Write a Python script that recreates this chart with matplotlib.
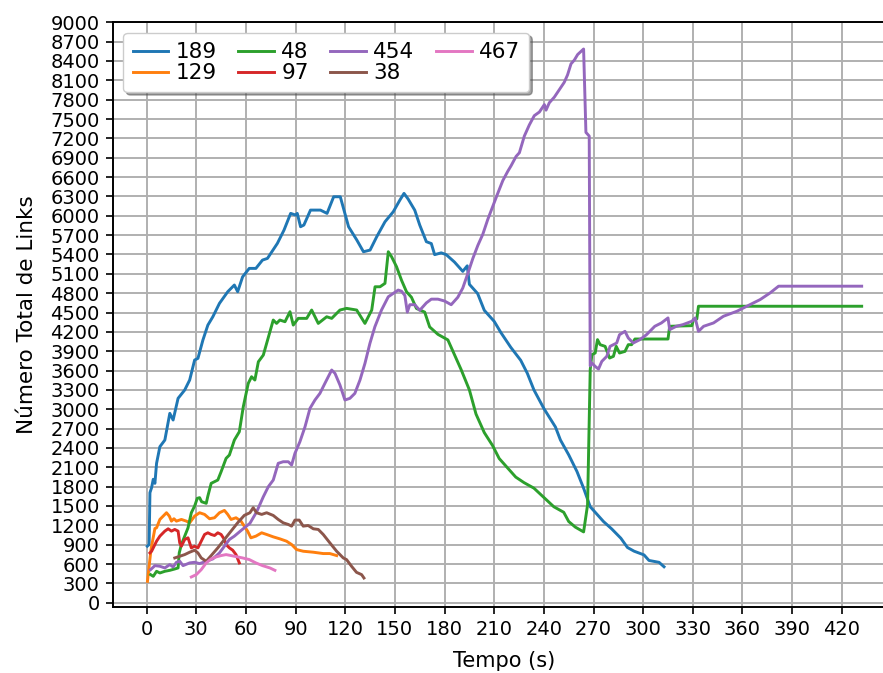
import matplotlib
matplotlib.use("Agg")
import matplotlib.pyplot as plt
import numpy as np

labels = ["189", "129", "48", "97", "454", "38", "467"]

t_189 = [0.4, 1.5, 2, 3, 4, 5, 6, 8, 11, 14, 16, 19, 23, 26, 29, 31, 34, 37, 40, 44, 49, 53, 55, 58,
         62, 66, 70, 73, 79, 83, 87, 90, 91, 93, 95, 99, 105, 109, 113, 117, 122, 127, 131, 135, 139,
         144, 149, 153, 155.5, 158, 162, 165, 169, 172, 174, 178, 181, 186, 191, 193.7, 195, 200, 204,
         210, 214, 220, 226, 230, 234, 240, 247, 250, 255, 260, 264, 268, 272, 276, 281, 286.5, 290.5,
         294.5, 300.5, 303.5, 309.6, 312.6]
v_189 = [876, 902, 1706, 1784, 1914, 1851, 2161, 2419, 2522, 2936, 2833, 3169, 3298, 3453, 3763, 3789,
         4073, 4305, 4434, 4642, 4822, 4926, 4822, 5054, 5184, 5184, 5313, 5339, 5572, 5778, 6037, 6011,
         6037, 5830, 5856, 6088, 6088, 6037, 6295, 6295, 5830, 5623, 5442, 5468, 5674, 5907, 6062, 6243,
         6347, 6259, 6086, 5856, 5598, 5569, 5397, 5425, 5397, 5282, 5138, 5224, 4937, 4793, 4534, 4362,
         4190, 3960, 3759, 3557, 3299, 3011, 2724, 2523, 2293, 2034, 1776, 1488, 1374, 1259, 1144, 1000,
         856, 799, 741, 655, 626, 557]

t_129 = [0.5, 2.4, 3, 5, 6, 8, 10, 12, 13.7, 15, 16.5, 18, 21, 24, 26, 29, 32, 35, 38, 41, 44, 47, 49,
         51, 54, 57, 59, 61, 63, 66, 69.5, 72.5, 76.5, 80.5, 84.5, 87.6, 90.6, 94.6, 100.7, 106.7, 110.7,
         114.8]
v_129 = [331, 772, 876, 1150, 1161, 1291, 1343, 1395, 1343, 1265, 1302, 1265, 1291, 1265, 1239, 1343,
         1395, 1369, 1302, 1317, 1395, 1431, 1369, 1291, 1317, 1265, 1187, 1110, 1006, 1032, 1084, 1058,
         1021, 990, 954, 902, 824, 798, 783, 762, 762, 731]

t_48 = [2.4, 4, 6, 8, 11, 14, 17, 19, 19.7, 21, 23, 25, 27, 29, 30.6, 32, 33.2, 36, 37, 39, 43, 45, 48,
        50, 53, 56, 58.4, 61.4, 63.4, 65.4, 67.5, 70.5, 72.5, 76.5, 78.5, 80.5, 83.6, 86.6, 88.6, 91.6,
        96.7, 99.7, 103.7, 108.8, 111.8, 116.8, 120.8, 126.9, 131.9, 136, 138, 141, 144, 146, 148, 151,
        154, 157, 160, 163, 168, 171, 176, 182, 186, 190, 195, 199, 204, 209, 213, 218, 223, 228, 234,
        240, 246, 252, 255, 259, 264, 266.4, 268, 269, 271, 272.4, 274, 277, 279.7, 282, 283.7, 285.7,
        289, 291, 293, 295, 315, 316, 329.4, 330.4, 332.4, 333.4, 432]
v_48 = [435, 409, 487, 461, 487, 502, 523, 539, 772, 902, 1032, 1161, 1395, 1499, 1618, 1629, 1566, 1541,
        1654, 1851, 1902, 2031, 2238, 2290, 2522, 2651, 3039, 3401, 3504, 3453, 3736, 3840, 4021, 4383,
        4331, 4383, 4357, 4512, 4305, 4409, 4409, 4538, 4331, 4434, 4409, 4538, 4564, 4538, 4331, 4538,
        4899, 4899, 4952, 5442, 5364, 5209, 5000, 4822, 4736, 4563, 4506, 4276, 4161, 4075, 3845, 3615,
        3299, 2925, 2638, 2437, 2236, 2092, 1948, 1862, 1776, 1632, 1488, 1402, 1259, 1172, 1098, 1517,
        3615, 3846, 3872, 4079, 4001, 3975, 3794, 3820, 3975, 3872, 3897, 4001, 4001, 4089, 4089, 4286,
        4296, 4390, 4400, 4597, 4597]

t_97 = [2, 3, 6, 8, 11, 13, 15, 17, 19, 20, 21, 23, 25, 27, 29, 31, 33, 35, 37, 39, 41, 43, 45, 47, 48,
        50, 52, 54, 56]
v_97 = [772, 798, 954, 1032, 1110, 1146, 1110, 1136, 1110, 928, 876, 980, 1006, 850, 876, 850, 954, 1058,
        1084, 1058, 1042, 1084, 1058, 980, 902, 850, 814, 746, 617]

t_454 = [2.4, 5, 8, 11, 14, 16, 18, 20, 22, 26, 29, 32, 36, 40, 44, 47, 50, 53, 57.4, 62.4, 66.5, 70.5,
         73.5, 76.5, 79.5, 82.5, 85.6, 87.6, 89.6, 92.6, 95.7, 98.7, 101.7, 104.7, 107.7, 111.8, 113.8,
         116.8, 119.8, 122.8, 125.8, 128.9, 131.9, 134.9, 137.9, 141.9, 146, 149, 152, 154, 156, 157.5,
         159, 162, 165, 169, 172, 176, 180, 184, 188, 191, 194.1, 197.1, 200.1, 203.1, 206.1, 209.1,
         212.1, 215.2, 218.2, 220.2, 223.2, 225.2, 228.2, 231.2, 234.2, 237.3, 240.3, 241.3, 243.3,
         246.3, 249.3, 252.3, 254.3, 256.4, 258.4, 260.4, 264, 265.4, 267.4, 268, 269, 271, 273, 275,
         278, 280, 282, 284, 285.7, 289, 291, 294, 298, 302, 307, 311, 315, 316, 320, 324, 329.4, 331.4,
         333.4, 336.5, 342.5, 348.5, 356.6, 362.6, 370.7, 376.7, 381.8, 432]
v_454 = [513, 575, 565, 539, 591, 554, 627, 643, 575, 617, 627, 606, 643, 679, 772, 876, 980, 1032, 1127,
         1231, 1411, 1643, 1798, 1902, 2161, 2186, 2186, 2135, 2316, 2496, 2729, 3014, 3143, 3246, 3401,
         3608, 3556, 3375, 3143, 3169, 3246, 3453, 3711, 4021, 4279, 4538, 4744, 4796, 4848, 4830, 4764,
         4506, 4621, 4621, 4534, 4649, 4707, 4707, 4678, 4621, 4736, 4879, 5109, 5339, 5540, 5713, 5943,
         6144, 6345, 6546, 6690, 6776, 6920, 6977, 7236, 7408, 7552, 7609, 7724, 7638, 7753, 7839, 7954,
         8069, 8184, 8356, 8414, 8500, 8586, 7293, 7236, 3672, 3716, 3664, 3623, 3742, 3820, 3975, 4001,
         4027, 4156, 4208, 4105, 4027, 4079, 4156, 4286, 4338, 4416, 4234, 4286, 4312, 4364, 4416, 4208,
         4286, 4338, 4442, 4519, 4597, 4701, 4804, 4908, 4908]

t_38 = [17, 20, 23, 26, 29, 31, 33, 36, 39, 43, 47, 51, 55, 59, 62.4, 64.4, 66.4, 69.5, 72.5, 76.5, 79.5,
        82.5, 85.6, 87.6, 89.6, 92.2, 94.6, 97.6, 100.7, 103.7, 106.7, 110.7, 114.8, 118.8, 120.8, 123.8,
        126.8, 129.9, 131.3]
v_38 = [694, 720, 746, 783, 814, 772, 694, 643, 731, 850, 980, 1110, 1239, 1354, 1395, 1473, 1395, 1369,
        1395, 1353, 1291, 1239, 1213, 1187, 1281, 1281, 1187, 1197, 1146, 1136, 1058, 928, 798, 694, 668,
        565, 471, 435, 383]

t_467 = [27, 30, 33, 36, 39, 42, 45, 48, 51, 55, 58, 62, 66, 70, 74.5, 77.5]
v_467 = [399, 435, 513, 617, 679, 710, 731, 746, 731, 710, 694, 669, 617, 575, 539, 502]

x_ticks = list(range(0, 421, 30))
y_ticks = list(range(0, 9001, 300))

series = [(t_189, v_189), (t_129, v_129), (t_48, v_48), (t_97, v_97),
          (t_454, v_454), (t_38, v_38), (t_467, v_467)]

W, H = 883, 673
fig = plt.figure(figsize=(W / 100, H / 100), dpi=100)
left, right = 112.7 / W, 895.6 / W
bottom, top = (H - 606.7) / H, (H - 22.3) / H
ax = fig.add_axes([left, bottom, right - left, top - bottom])

for i, ((t, v), lab) in enumerate(zip(series, labels)):
    ax.plot(t, v, color=f"C{i}", lw=2.1, label=lab)

ax.set_xlim(-20.5, 452.5)
ax.set_ylim(-62, 9000)
ax.set_xticks(x_ticks)
ax.set_yticks(y_ticks)
ax.grid(True, color="#b0b0b0", lw=1.4)
ax.set_axisbelow(True)
for s in ax.spines.values():
    s.set_linewidth(1.4)
ax.tick_params(labelsize=14, length=4.8, width=1.2, pad=4.5)
ax.set_xlabel("Tempo (s)", fontsize=15, labelpad=9)
ax.set_ylabel("Número Total de Links", fontsize=15.5, labelpad=10)
ax.legend(loc="upper left", ncol=4, shadow=True, fontsize=15.5,
          handlelength=1.65, columnspacing=1.0, labelspacing=0.05,
          borderpad=0.42, handletextpad=0.35, borderaxespad=0.5)

fig.savefig("out.png", dpi=100)
